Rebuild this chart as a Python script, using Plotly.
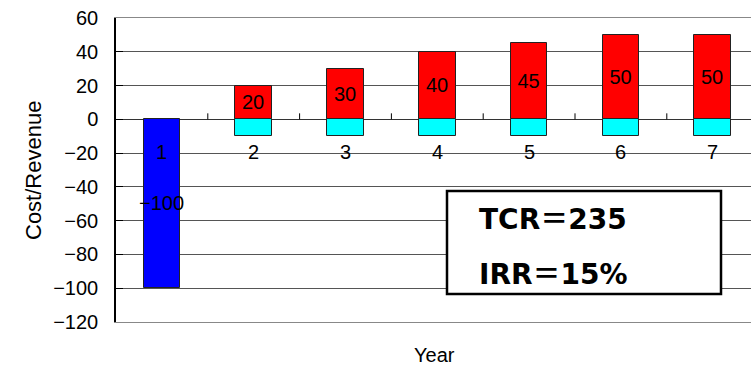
import plotly.graph_objects as go

# Cash-flow profile per project year
years = [1, 2, 3, 4, 5, 6, 7]
investment_years = [1]
investment = [-100]
revenue_years = [2, 3, 4, 5, 6, 7]
revenue = [20, 30, 40, 45, 50, 50]
running_cost = [-10, -10, -10, -10, -10, -10]
y_ticks = [60, 40, 20, 0, -20, -40, -60, -80, -100, -120]
summary_items = [("TCR", "235"), ("IRR", "15%")]

W, H = 751, 366
ML, MR, MT, MB = 116, 0, 18, 44
plot_w = W - ML - MR
plot_h = H - MT - MB

FONT = "Liberation Sans, Arial, sans-serif"
BAR_W = 0.4

fig = go.Figure()

fig.add_trace(go.Bar(
    x=investment_years, y=investment, width=BAR_W,
    marker=dict(color="#0000FF", line=dict(color="#222", width=1)),
    text=[f"{v:d}".replace("-", "−") for v in investment],
    textposition="inside", insidetextanchor="middle", textangle=0,
    constraintext="none",
    textfont=dict(family=FONT, size=20, color="black"),
    showlegend=False, hoverinfo="skip",
))
fig.add_trace(go.Bar(
    x=revenue_years, y=revenue, width=BAR_W,
    marker=dict(color="#FF0000", line=dict(color="#222", width=1)),
    text=[str(v) for v in revenue],
    textposition="inside", insidetextanchor="middle", textangle=0,
    constraintext="none",
    textfont=dict(family=FONT, size=20, color="black"),
    showlegend=False, hoverinfo="skip",
))
fig.add_trace(go.Bar(
    x=revenue_years, y=running_cost, width=BAR_W,
    marker=dict(color="#00FFFF", line=dict(color="#222", width=1)),
    showlegend=False, hoverinfo="skip",
))

# Category labels sit just under the zero line
for yr in years:
    fig.add_annotation(
        x=yr, y=0, xref="x", yref="y", text=str(yr), showarrow=False,
        yanchor="middle", yshift=-33,
        font=dict(family=FONT, size=20, color="black"),
    )

# Category separator ticks on the zero line
for yr in years[:-1]:
    fig.add_shape(
        type="line", xref="x", yref="y", x0=yr + 0.5, x1=yr + 0.5,
        ysizemode="pixel", yanchor=0, y0=0, y1=6,
        line=dict(color="black", width=1), layer="above",
    )

# Summary box
def px_x(p):
    return (p - ML) / plot_w

def px_y(p):
    return (H - MB - p) / plot_h

fig.add_shape(
    type="rect", xref="paper", yref="paper",
    x0=px_x(447), x1=px_x(721), y0=px_y(294), y1=px_y(191),
    line=dict(color="black", width=2.5), fillcolor="white", layer="above",
)
EQ = "<span style='font-family:Noto Sans CJK JP'>＝</span>"
for (name, val), cy in zip(summary_items, [217, 272]):
    fig.add_annotation(
        x=px_x(477), y=px_y(cy), xref="paper", yref="paper",
        text=f"{name}{EQ}{val}", showarrow=False,
        xanchor="left", yanchor="middle",
        font=dict(family="DejaVu Sans, Noto Sans CJK JP", size=28,
                  color="black", weight="bold"),
    )

fig.add_annotation(
    x=px_x(33), y=0.5, xref="paper", yref="paper", text="Cost/Revenue",
    textangle=-90, showarrow=False, xanchor="center", yanchor="middle",
    font=dict(family=FONT, size=22, color="black"),
)
fig.add_annotation(
    x=px_x(434), y=px_y(355), xref="paper", yref="paper", text="Year",
    showarrow=False, xanchor="center", yanchor="middle",
    font=dict(family=FONT, size=20, color="black"),
)

fig.update_layout(
    width=W, height=H,
    margin=dict(l=ML, r=MR, t=MT, b=MB, pad=0),
    paper_bgcolor="white", plot_bgcolor="white",
    barmode="relative", bargap=0,
    xaxis=dict(
        range=[0.5, 0.5 + plot_w / 91.8], showticklabels=False, ticks="",
        showgrid=False, zeroline=False, showline=True, mirror=True,
        linecolor="#888", linewidth=1,
    ),
    yaxis=dict(
        range=[-120, 60], tickvals=y_ticks,
        ticktext=[str(v).replace("-", "−") for v in y_ticks],
        ticks="inside", ticklen=7, tickcolor="black",
        showline=True, linecolor="black", linewidth=1.5,
        showgrid=True, gridcolor="#555", gridwidth=1,
        zeroline=True, zerolinecolor="#333", zerolinewidth=1,
        tickfont=dict(family=FONT, size=20, color="black"),
        ticklabelstandoff=12,
    ),
)

fig.write_html("out.html")
